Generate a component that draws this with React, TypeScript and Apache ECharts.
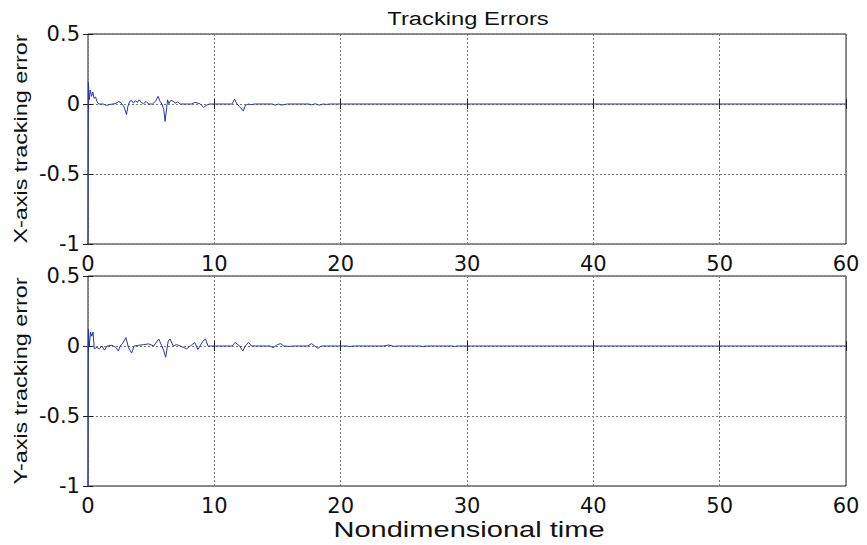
import React, { useEffect, useRef } from "react";
import * as echarts from "echarts";

// Time samples and tracking errors
const timeX = [0, 0.03, 0.1, 0.18, 0.28, 0.38, 0.48, 0.6, 0.72, 0.85, 1.2, 1.45, 1.7, 1.95, 2.2, 2.45, 2.65, 2.85, 3.05, 3.15, 3.3, 3.45, 3.6, 3.75, 3.9, 4.05, 4.2, 4.4, 4.6, 4.8, 5.1, 5.35, 5.55, 5.7, 5.85, 6.0, 6.1, 6.2, 6.3, 6.4, 6.55, 6.75, 6.9, 7.1, 7.3, 8.2, 8.45, 8.7, 8.9, 9.15, 9.35, 9.6, 11.4, 11.6, 11.8, 12.0, 12.3, 12.45, 12.7, 12.9, 13.2, 14.6, 14.8, 15.1, 15.3, 15.6, 15.8, 17.5, 17.7, 18.0, 18.3, 18.6, 18.9, 19.1, 60];
const errorX = [-1, 0.156, 0.03, 0.1, 0.055, 0.085, 0.04, 0.05, 0.015, 0.0, 0.0, -0.01, -0.004, 0.0, 0.004, 0.018, 0.004, -0.02, -0.075, -0.02, 0.02, 0.024, 0.006, 0.025, 0.01, 0.03, 0.012, 0.002, 0.018, 0.0, 0.0, 0.02, 0.055, 0.02, 0.0, -0.04, -0.125, -0.05, 0.03, 0.002, 0.025, 0.02, 0.005, 0.015, 0.0, 0.0, 0.012, 0.006, 0.0, -0.025, -0.01, 0.0, 0.0, 0.035, 0.0, -0.02, -0.05, -0.01, 0.0, -0.005, 0.0, 0.0, -0.008, 0.0, -0.008, -0.003, 0.0, 0.0, -0.006, 0.002, -0.008, 0.0, -0.003, 0.0, 0.0];

const timeY = [0, 0.03, 0.1, 0.2, 0.3, 0.4, 0.5, 0.7, 0.9, 1.1, 1.3, 1.5, 1.9, 2.2, 2.4, 2.55, 2.75, 3.0, 3.2, 3.45, 3.65, 4.0, 4.4, 4.8, 5.2, 5.6, 5.85, 6.0, 6.15, 6.35, 6.5, 6.75, 7.0, 7.3, 7.8, 8.1, 8.45, 8.7, 9.1, 9.3, 9.5, 11.4, 11.65, 12.0, 12.25, 12.45, 12.7, 12.95, 14.4, 14.67, 15.0, 15.25, 15.5, 15.9, 16.3, 17.4, 17.7, 17.95, 18.2, 18.45, 20.5, 20.7, 21.0, 23.4, 23.8, 24.2, 24.5, 26.3, 26.5, 26.7, 28.8, 29.0, 29.2, 60];
const errorY = [-1, 0.12, 0.0, 0.1, 0.07, 0.1, -0.02, -0.01, -0.02, 0.0, -0.03, 0.0, 0.005, -0.01, -0.035, 0.0, 0.02, 0.06, -0.01, -0.05, 0.0, 0.005, 0.01, 0.015, 0.0, 0.05, 0.0, -0.035, -0.08, 0.035, 0.05, 0.0, 0.01, 0.0, -0.02, 0.0, 0.025, -0.025, 0.035, 0.05, 0.0, 0.0, 0.025, 0.0, -0.035, 0.0, 0.025, 0.0, 0.0, -0.012, 0.01, 0.017, 0.0, -0.003, 0.0, 0.0, 0.017, 0.0, -0.017, 0.0, 0.0, -0.004, 0.0, 0.0, 0.007, -0.003, 0.0, 0.0, -0.004, 0.0, 0.0, -0.004, 0.0, 0.0];

const xTicks = { min: 0, max: 60, interval: 10 };
const yTicks = { min: -1, max: 0.5, interval: 0.5 };

const titleText = "Tracking Errors";
const xName = "Nondimensional time";
const yNames = ["X-axis tracking error", "Y-axis tracking error"];

const FRAME = "#1f1f1f";
const LINE = "#2536a8";
const TICK_FONT = "DejaVu Sans";
const NAME_FONT = "Liberation Sans";

const grids = [
  { left: 88, top: 34, width: 758, height: 210 },
  { left: 88, top: 276, width: 758, height: 210 },
];

export default function App() {
  const ref = useRef<HTMLDivElement>(null);
  useEffect(() => {
    if (!ref.current) return;
    const chart = echarts.init(ref.current, null, { renderer: "svg" });
    const tick = { show: true, inside: true, length: 5, lineStyle: { color: FRAME, width: 1 } };
    const split = { show: true, lineStyle: { color: "#7a7a7a", type: [2, 2] as any, width: 1 } };
    const label = { color: "#111", fontSize: 21, fontFamily: TICK_FONT };
    const xAxes: any[] = [];
    const yAxes: any[] = [];
    grids.forEach((_, i) => {
      xAxes.push({
        type: "value", gridIndex: i, ...xTicks, position: "bottom",
        axisLine: { show: false }, axisTick: tick, splitLine: split,
        axisLabel: { ...label, margin: 9 },
      });
      xAxes.push({
        type: "value", gridIndex: i, ...xTicks, position: "top",
        axisLine: { show: false }, axisTick: tick, splitLine: { show: false },
        axisLabel: { show: false },
      });
      yAxes.push({
        type: "value", gridIndex: i, ...yTicks, position: "left",
        axisLine: { show: false }, axisTick: tick, splitLine: split,
        axisLabel: { ...label, margin: 8 },
      });
      yAxes.push({
        type: "value", gridIndex: i, ...yTicks, position: "right",
        axisLine: { show: false }, axisTick: tick, splitLine: { show: false },
        axisLabel: { show: false },
      });
    });
    const series = [
      { t: timeX, v: errorX },
      { t: timeY, v: errorY },
    ].map((s, i) => ({
      type: "line",
      xAxisIndex: i * 2,
      yAxisIndex: i * 2,
      data: s.t.map((t, k) => [t, s.v[k]]),
      showSymbol: false,
      symbol: "none",
      lineStyle: { color: LINE, width: 1 },
      z: 3,
    }));
    chart.setOption({
      animation: false,
      backgroundColor: "#ffffff",
      grid: grids.map((g) => ({ ...g, show: true, borderColor: FRAME, borderWidth: 1, backgroundColor: "transparent" })),
      xAxis: xAxes,
      yAxis: yAxes,
      series,
      graphic: [
        {
          type: "text", x: 468, y: 19, scaleX: 1.32,
          style: { text: titleText, font: `18px "${NAME_FONT}"`, fill: "#111", textAlign: "center", textVerticalAlign: "middle" },
        },
        {
          type: "text", x: 469, y: 529, scaleX: 1.32,
          style: { text: xName, font: `22px "${NAME_FONT}"`, fill: "#111", textAlign: "center", textVerticalAlign: "middle" },
        },
        ...yNames.map((n, i) => ({
          type: "text", x: 21, y: grids[i].top + grids[i].height / 2, rotation: Math.PI / 2, scaleX: 1.3,
          style: { text: n, font: `18px "${NAME_FONT}"`, fill: "#111", textAlign: "center", textVerticalAlign: "middle" },
        })),
      ],
    });
    return () => chart.dispose();
  }, []);
  return (
    <div
      ref={ref}
      style={{ position: "absolute", left: 0, top: 0, width: 867, height: 545, background: "#fff" }}
    />
  );
}
